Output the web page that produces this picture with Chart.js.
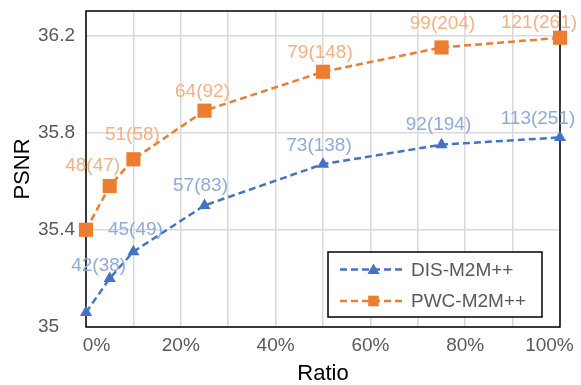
<!DOCTYPE html>
<html><head><meta charset="utf-8">
<script src="https://cdn.jsdelivr.net/npm/chart.js@4/dist/chart.umd.min.js"></script>
<style>html,body{margin:0;padding:0;background:#fff}canvas{display:block}</style>
</head><body><canvas id="c" width="581" height="385" style="width:581px;height:385px"></canvas>
<script>
// ---- data ----
const ratios = [0, 5, 10, 25, 50, 75, 100];
const disPSNR = [35.06, 35.20, 35.31, 35.50, 35.67, 35.75, 35.78];
const pwcPSNR = [35.40, 35.58, 35.69, 35.89, 36.05, 36.15, 36.19];
const disLabels = ['', '42(38)', '45(49)', '57(83)', '73(138)', '92(194)', '113(251)'];
const pwcLabels = ['', '48(47)', '51(58)', '64(92)', '79(148)', '99(204)', '121(261)'];
const seriesNames = ['DIS-M2M++', 'PWC-M2M++'];
const xGridValues = [0, 10, 20, 30, 40, 50, 60, 70, 80, 90, 100];
const xLabelValues = [0, 20, 40, 60, 80, 100];
const xTickLabels = ['0%', '20%', '40%', '60%', '80%', '100%'];
const yTickValues = [35, 35.4, 35.8, 36.2];
const yTickLabels = ['35', '35.4', '35.8', '36.2'];

// ---- label placement (pixel offsets from marker) ----
const disLabelOffsets = [null, [-11, -13], [2, -22], [-4, -20], [-4, -18], [-3, -20], [-22, -19]];
const pwcLabelOffsets = [null, [-17, -20], [-1, -25], [-2, -19], [-3, -19], [1, -24], [-21, -15]];

const FONT = "'Liberation Sans', Arial, sans-serif";
const BLUE = '#4472C4', ORANGE = '#ED7D31';
const BLUE_L = '#8FAADC', ORANGE_L = '#F4B183';

const pts = (ys) => ratios.map((x, i) => ({x, y: ys[i]}));

const frame = {
  id: 'frame',
  beforeDatasetsDraw(chart) {
    const {ctx, chartArea: a} = chart;
    ctx.save();
    ctx.strokeStyle = '#000';
    ctx.lineWidth = 1.5;
    ctx.strokeRect(a.left, a.top, a.right - a.left, a.bottom - a.top);
    ctx.restore();
  }
};

const dataLabels = {
  id: 'dataLabels',
  afterDatasetsDraw(chart) {
    const ctx = chart.ctx;
    const sets = [[disLabels, disLabelOffsets, BLUE_L], [pwcLabels, pwcLabelOffsets, ORANGE_L]];
    ctx.save();
    ctx.font = '19px ' + FONT;
    ctx.textAlign = 'center';
    ctx.textBaseline = 'middle';
    sets.forEach(([labels, offs, col], di) => {
      const meta = chart.getDatasetMeta(di);
      ctx.fillStyle = col;
      meta.data.forEach((el, i) => {
        if (!labels[i]) return;
        const o = offs[i];
        ctx.fillText(labels[i], el.x + o[0], el.y + o[1]);
      });
    });
    ctx.restore();
  }
};

function marker(ctx, style, x, y, r, color) {
  ctx.save();
  ctx.fillStyle = color;
  ctx.beginPath();
  if (style === 'triangle') {
    let rad = 0;
    ctx.moveTo(x + Math.sin(rad) * r, y - Math.cos(rad) * r);
    rad += 2 * Math.PI / 3;
    ctx.lineTo(x + Math.sin(rad) * r, y - Math.cos(rad) * r);
    rad += 2 * Math.PI / 3;
    ctx.lineTo(x + Math.sin(rad) * r, y - Math.cos(rad) * r);
    ctx.closePath();
  } else {
    const s = r * Math.SQRT1_2;
    ctx.rect(x - s, y - s, 2 * s, 2 * s);
  }
  ctx.fill();
  ctx.restore();
}

const insideLegend = {
  id: 'insideLegend',
  afterDraw(chart) {
    const {ctx, chartArea: a} = chart;
    const bx = a.right - 232, by = a.bottom - 75, bw = 214, bh = 65;
    ctx.save();
    ctx.fillStyle = '#fff';
    ctx.fillRect(bx, by, bw, bh);
    ctx.strokeStyle = '#000';
    ctx.lineWidth = 1.5;
    ctx.strokeRect(bx, by, bw, bh);
    const rows = [by + 17.5, by + 49];
    chart.data.datasets.forEach((ds, i) => {
      const y = rows[i];
      ctx.strokeStyle = ds.borderColor;
      ctx.lineWidth = 2.5;
      ctx.setLineDash([7, 4]);
      ctx.beginPath();
      ctx.moveTo(bx + 12, y);
      ctx.lineTo(bx + 77, y);
      ctx.stroke();
      ctx.setLineDash([]);
      marker(ctx, ds.pointStyle, bx + 45.5, y + (ds.pointStyle === 'triangle' ? 1 : 0), ds.pointStyle === 'triangle' ? 7 : 7.5, ds.borderColor);
      ctx.fillStyle = '#595959';
      ctx.font = '19px ' + FONT;
      ctx.textAlign = 'left';
      ctx.textBaseline = 'middle';
      ctx.fillText(ds.label, bx + 83, y + 1);
    });
    ctx.restore();
  }
};

new Chart(document.getElementById('c'), {
  type: 'line',
  data: {
    datasets: [
      {label: seriesNames[0], data: pts(disPSNR), borderColor: BLUE, backgroundColor: BLUE,
       borderDash: [7, 4], borderWidth: 2.5, pointStyle: 'triangle', pointRadius: 7,
       pointBorderWidth: 0, pointHoverRadius: 7, fill: false, tension: 0, clip: false},
      {label: seriesNames[1], data: pts(pwcPSNR), borderColor: ORANGE, backgroundColor: ORANGE,
       borderDash: [7, 4], borderWidth: 2.5, pointStyle: 'rect', pointRadius: 10,
       pointBorderWidth: 0, pointHoverRadius: 10, fill: false, tension: 0, clip: false}
    ]
  },
  options: {
    responsive: false,
    maintainAspectRatio: false,
    animation: false,
    devicePixelRatio: 1,
    layout: {padding: {top: 11, right: 21, bottom: 0, left: 0}},
    plugins: {legend: {display: false}, tooltip: {enabled: false}},
    events: [],
    scales: {
      x: {
        type: 'linear', min: 0, max: 100,
        afterBuildTicks: (s) => { s.ticks = xGridValues.map(v => ({value: v})); },
        afterFit: (s) => { s.height = 58; s.paddingLeft = 0; s.paddingRight = 0; },
        grid: {color: '#D9D9D9', lineWidth: 1.5, drawTicks: false},
        border: {display: false},
        ticks: {
          autoSkip: false, maxRotation: 0, padding: 7, color: '#595959',
          font: {family: FONT, size: 19},
          callback: (v) => {
            const k = xLabelValues.indexOf(v);
            if (k < 0) return '';
            if (v === 0) return '    ' + xTickLabels[k];
            if (v === 100) return xTickLabels[k] + '    ';
            return xTickLabels[k];
          }
        },
        title: {display: true, text: 'Ratio', color: '#000',
                font: {family: FONT, size: 22, lineHeight: 1}, padding: {top: 0, bottom: 0}}
      },
      y: {
        type: 'linear', min: 35, max: 36.3,
        afterBuildTicks: (s) => { s.ticks = yTickValues.map(v => ({value: v})); },
        afterFit: (s) => { s.width = 86; s.paddingTop = 0; s.paddingBottom = 0; },
        grid: {color: '#D9D9D9', lineWidth: 1.5, drawTicks: false},
        border: {display: false},
        ticks: {
          padding: 11, color: '#595959', font: {family: FONT, size: 19},
          callback: (v) => {
            const k = yTickValues.findIndex(t => Math.abs(t - v) < 1e-6);
            if (k < 0) return '';
            return k === 0 ? yTickLabels[k] + '   ' : yTickLabels[k];
          }
        },
        title: {display: true, text: 'PSNR', color: '#000',
                font: {family: FONT, size: 22, lineHeight: 1.2}, padding: {top: 10, bottom: 0}}
      }
    }
  },
  plugins: [frame, dataLabels, insideLegend]
});
</script>
</body></html>
